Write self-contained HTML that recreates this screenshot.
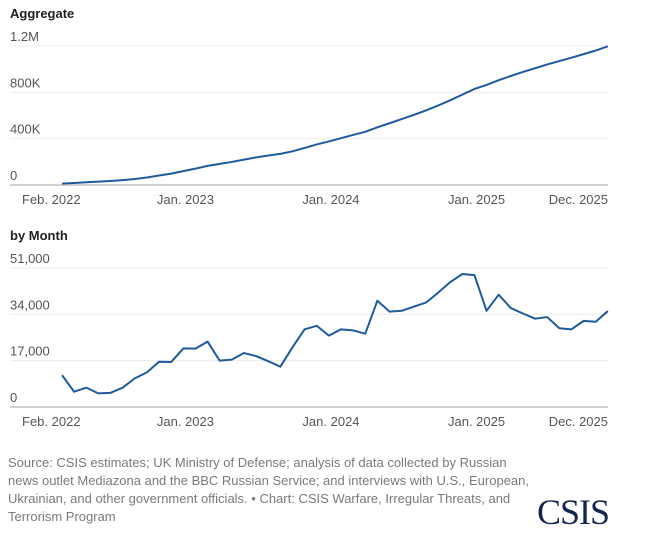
<!DOCTYPE html>
<html><head><meta charset="utf-8"><style>
body{margin:0;background:#fff;}
#wrap{position:relative;width:645px;height:541px;overflow:hidden;font-family:"Liberation Sans",sans-serif;}
.t{position:absolute;font-weight:bold;font-size:13px;color:#222;left:10px;}
.foot{position:absolute;left:8px;top:454px;font-size:13px;line-height:18px;color:#7a7a7a;white-space:nowrap;}
.logo{position:absolute;left:537px;top:491px;font-family:"Liberation Serif",serif;font-size:36px;color:#13264f;letter-spacing:-1px;}
svg text{font-family:"Liberation Sans",sans-serif;font-size:13px;fill:#555;}
</style></head><body>
<div id="wrap">
<div class="t" style="top:6px">Aggregate</div>
<div class="t" style="top:228px">by Month</div>
<svg id="svg" width="645" height="440" style="position:absolute;left:0;top:0"></svg>
<div class="foot">Source: CSIS estimates; UK Ministry of Defense; analysis of data collected by Russian<br>news outlet Mediazona and the BBC Russian Service; and interviews with U.S., European,<br>Ukrainian, and other government officials. • Chart: CSIS Warfare, Irregular Threats, and<br>Terrorism Program</div>
<div class="logo">CSIS</div>
</div>
<script>
const monthly=[11.7,5.6,7.1,5.0,5.2,7.1,10.5,12.7,16.6,16.5,21.5,21.4,24.0,17.0,17.4,19.8,18.7,16.8,14.8,21.9,28.5,29.8,26.2,28.5,28.1,26.9,39.0,35.0,35.3,36.8,38.3,41.9,45.8,48.8,48.4,35.3,41.2,36.3,34.3,32.4,33.0,28.9,28.5,31.6,31.3,35.2];
const cumulative=[12,17,24,29,35,42,52,65,82,98,120,141,165,182,199,219,238,255,269,291,320,350,376,404,432,459,498,533,569,605,644,686,731,780,829,864,905,941,976,1008,1041,1070,1099,1130,1161,1197];
const topTicks=[0,400,800,1200];
const topTickLabels=["0","400K","800K","1.2M"];
const botTicks=[0,17,34,51];
const botTickLabels=["0","17,000","34,000","51,000"];
const xLabels=["Feb. 2022","Jan. 2023","Jan. 2024","Jan. 2025","Dec. 2025"];
const xLabelMonths=[-1,11,23,35,45];

const NS="http://www.w3.org/2000/svg";
const svg=document.getElementById('svg');
function mk(tag,attrs){const e=document.createElementNS(NS,tag);for(const k in attrs)e.setAttribute(k,attrs[k]);svg.appendChild(e);return e;}
const x=i=>62+i*12.13;
function drawChart(vals,ticks,labels,y0,yTop,max,prefix){
  const y=v=>y0-(v/max)*(y0-yTop);
  ticks.forEach((t,i)=>{
    const g=mk('line',{x1:10,x2:608,y1:y(t),y2:y(t),stroke:i==0?'#cfcfcf':'#ececec','stroke-width':i==0?2:1});
    
    
    const tx=mk('text',{x:10,y:y(t)-5});
    tx.textContent=labels[i];
    
    
  });
  xLabels.forEach((l,i)=>{
    const m=xLabelMonths[i];
    let px=i==0?22:(i==4?608:x(m)-10);
    const tx=mk('text',{x:px,y:y0+19,'text-anchor':i==0?'start':(i==4?'end':'middle')});
    tx.textContent=l;
    
    
  });
  const p=mk('polyline',{points:vals.map((v,i)=>x(i)+','+y(v)).join(' '),fill:'none',stroke:'#1f5a9c','stroke-width':2,'stroke-linejoin':'round'});
  
  
}
drawChart(cumulative,topTicks,topTickLabels,185,46,1200,'aggregate');
drawChart(monthly,botTicks,botTickLabels,407,268,51,'monthly');
</script>
</body></html>
